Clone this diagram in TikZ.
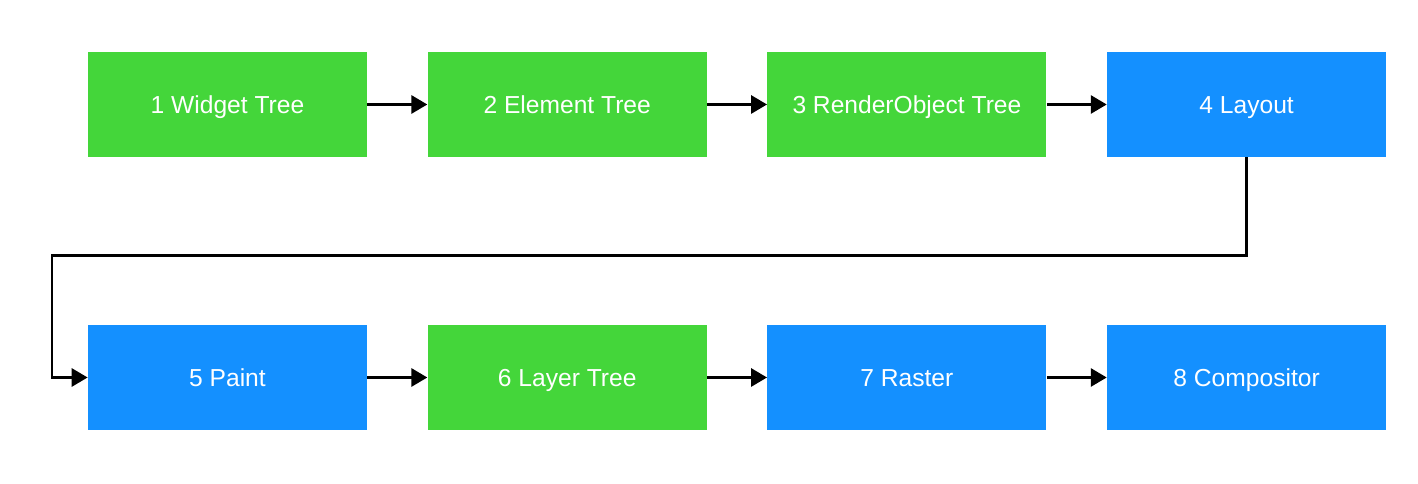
\documentclass[tikz,border=0pt]{standalone}
\usepackage{fontspec}
\setmainfont{Liberation Sans}
\usetikzlibrary{positioning, arrows.meta, calc}

\definecolor{stagegreen}{HTML}{44D63A}
\definecolor{stageblue}{HTML}{1490FF}

\tikzset{
	stage/.style={minimum width=5.58cm, minimum height=2.1cm, inner sep=0pt,
		text height=10pt, text depth=0pt,
		text=white, font=\fontsize{14}{16}\selectfont},
	treestage/.style={stage, fill=stagegreen},
	passstage/.style={stage, fill=stageblue},
	link/.style={line width=1.7pt, -{Triangle[length=0.32cm, width=0.36cm]}}
}

\begin{document}
\begin{tikzpicture}[node distance=1.2cm]
			\def\W{28.36};
			\def\H{9.68};

			\useasboundingbox (0,0) rectangle (\W,\H);

			% top row
			\node[treestage] (widget) at (4.55,7.59) {1 Widget Tree};
			\node[treestage, right=of widget] (element) {2 Element Tree};
			\node[treestage, right=of element] (render) {3 RenderObject Tree};
			\node[passstage, right=of render] (layout) {4 Layout};

			% bottom row
			\node[passstage] (paint) at (4.55,2.13) {5 Paint};
			\node[treestage, right=of paint] (layer) {6 Layer Tree};
			\node[passstage, right=of layer] (raster) {7 Raster};
			\node[passstage, right=of raster] (compositor) {8 Compositor};

			\coordinate (turn right) at ($ (layout.south) + (0,-1.97) $);
			\coordinate (turn left) at (1.04,0 |- turn right);

			\begin{scope}[link]
				\draw (widget) -- (element);
				\draw (element) -- (render);
				\draw (render) -- (layout);
				\draw (layout.south) -- (turn right) -- (turn left) |- (paint.west);
				\draw (paint) -- (layer);
				\draw (layer) -- (raster);
				\draw (raster) -- (compositor);
			\end{scope}
		\end{tikzpicture}
\end{document}
